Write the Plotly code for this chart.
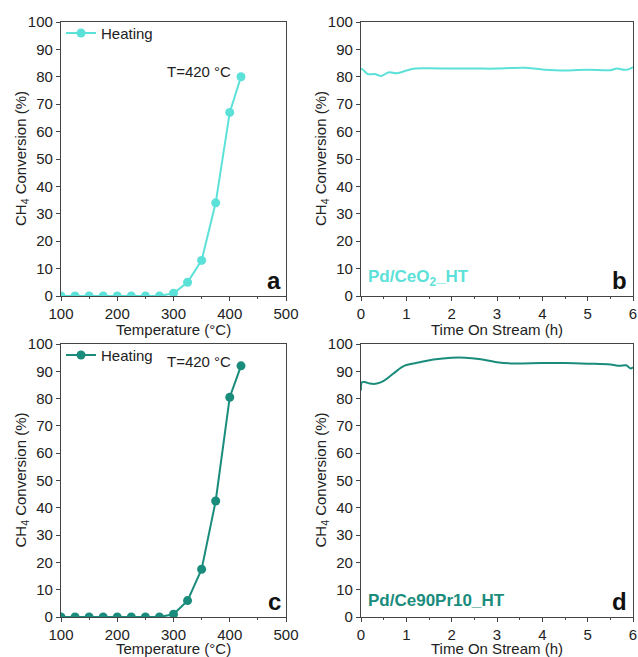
import plotly.graph_objects as go

# Panel a / c : light-off curves
temp = [100, 125, 150, 175, 200, 225, 250, 275, 300, 325, 350, 375, 400, 420]
conv_ceo2 = [0, 0, 0, 0, 0, 0, 0, 0, 1, 5, 13, 34, 67, 80]
conv_cepr = [0, 0, 0, 0, 0, 0, 0, 0, 1, 6, 17.5, 42.5, 80.5, 92]

# Panel b / d : time on stream
tos_b = [0, 0.05, 0.15, 0.3, 0.45, 0.6, 0.8, 1.0, 1.2, 1.5, 2.0, 2.5, 3.0, 3.3, 3.6, 4.0, 4.5, 5.0, 5.5, 5.65, 5.8, 5.9, 6.0]
conv_b = [83, 82.5, 81, 81, 80.3, 81.6, 81.3, 82.3, 83, 83.1, 83, 83, 83, 83.2, 83.3, 82.7, 82.3, 82.6, 82.4, 83, 82.6, 82.7, 83.5]
tos_d = [0, 0.02, 0.1, 0.2, 0.35, 0.5, 0.7, 0.9, 1.0, 1.3, 1.6, 2.0, 2.3, 2.6, 3.0, 3.3, 4.0, 4.5, 5.0, 5.5, 5.7, 5.85, 5.95, 6.0]
conv_d = [83, 86, 86, 85.5, 85.5, 86.5, 89, 91.5, 92.3, 93.3, 94.3, 95, 95, 94.5, 93.3, 92.9, 93, 93, 92.8, 92.5, 92, 92.2, 91, 91.5]

c1 = "#5CE1D8"
c2 = "#1A8C7C"
font = "Liberation Sans, Arial, sans-serif"
axcol = "#444444"
FS = 15

fig = go.Figure()
fig.add_trace(go.Scatter(x=temp, y=conv_ceo2, mode="lines+markers", name="Heating",
                         line=dict(color=c1, width=2), marker=dict(size=9, color=c1),
                         xaxis="x", yaxis="y", legend="legend"))
fig.add_trace(go.Scatter(x=tos_b, y=conv_b, mode="lines", showlegend=False,
                         line=dict(color=c1, width=2, shape="spline"), xaxis="x2", yaxis="y2"))
fig.add_trace(go.Scatter(x=temp, y=conv_cepr, mode="lines+markers", name="Heating",
                         line=dict(color=c2, width=2), marker=dict(size=9, color=c2),
                         xaxis="x3", yaxis="y3", legend="legend2"))
fig.add_trace(go.Scatter(x=tos_d, y=conv_d, mode="lines", showlegend=False,
                         line=dict(color=c2, width=2, shape="spline"), xaxis="x4", yaxis="y4"))

W, H = 638, 657

def dx(a, b):
    return [a / W, b / W]

def dy(top, bot):
    return [1 - bot / H, 1 - top / H]

dx_left = dx(61, 286)
dx_right = dx(361, 633)
dy_top = dy(22, 296)
dy_bot = dy(344, 617)

ytitle = "CH<sub>4</sub> Conversion (%)"

def xax(domain, anchor, rng, dtick):
    return dict(domain=domain, anchor=anchor, range=rng, dtick=dtick, tick0=rng[0],
                automargin=False,
                showline=True, mirror=True, linecolor=axcol, linewidth=1.2,
                ticks="outside", ticklen=4, tickcolor=axcol, showgrid=False, zeroline=False,
                minor=dict(ticks="outside", ticklen=2, dtick=dtick / 2, tickcolor=axcol),
                tickfont=dict(size=FS, color="#222", family=font))

def yax(domain, anchor):
    return dict(domain=domain, anchor=anchor, range=[0, 100], dtick=10,
                automargin=False,
                showline=True, mirror=True, linecolor=axcol, linewidth=1.2,
                ticks="outside", ticklen=4, tickcolor=axcol, showgrid=False, zeroline=False,
                tickfont=dict(size=FS, color="#222", family=font))

fig.update_layout(
    width=W, height=H, margin=dict(l=0, r=0, t=0, b=0),
    paper_bgcolor="white", plot_bgcolor="white",
    font=dict(family=font, color="#222"),
    xaxis=xax(dx_left, "y", [100, 500], 100),
    yaxis=yax(dy_top, "x"),
    xaxis2=xax(dx_right, "y2", [0, 6], 1),
    yaxis2=yax(dy_top, "x2"),
    xaxis3=xax(dx_left, "y3", [100, 500], 100),
    yaxis3=yax(dy_bot, "x3"),
    xaxis4=xax(dx_right, "y4", [0, 6], 1),
    yaxis4=yax(dy_bot, "x4"),
    legend=dict(x=dx_left[0], y=dy_top[1] + 0.008, xanchor="left", yanchor="top",
                bgcolor="rgba(0,0,0,0)", font=dict(size=FS, family=font, color="#222"),
                itemwidth=30, tracegroupgap=0),
    legend2=dict(x=dx_left[0], y=dy_bot[1] + 0.008, xanchor="left", yanchor="top",
                 bgcolor="rgba(0,0,0,0)", font=dict(size=FS, family=font, color="#222"),
                 itemwidth=30, tracegroupgap=0),
)

# axis titles
for xr, yr, t, ys in [("x domain", "y domain", "Temperature (°C)", -23),
                      ("x2 domain", "y2 domain", "Time On Stream (h)", -23),
                      ("x3 domain", "y3 domain", "Temperature (°C)", -21),
                      ("x4 domain", "y4 domain", "Time On Stream (h)", -21)]:
    fig.add_annotation(text=t, x=0.5, y=0, xref=xr, yref=yr, xanchor="center", yanchor="top",
                       yshift=ys, showarrow=False, font=dict(size=FS, family=font, color="#222"))
    fig.add_annotation(text=ytitle, x=0, y=0.5, xref=xr, yref=yr, xanchor="center", yanchor="middle",
                       xshift=-40, textangle=-90, showarrow=False,
                       font=dict(size=FS, family=font, color="#222"))

ann = [
    dict(text="T=420 °C", x=406, y=82, xref="x", yref="y", xanchor="right", yanchor="middle"),
    dict(text="T=420 °C", x=406, y=93.5, xref="x3", yref="y3", xanchor="right", yanchor="middle"),
]
for a in ann:
    a.update(showarrow=False, font=dict(size=FS, family=font, color="#222"))
    fig.add_annotation(**a)

labels = [("a", "x domain", "y domain"), ("b", "x2 domain", "y2 domain"),
          ("c", "x3 domain", "y3 domain"), ("d", "x4 domain", "y4 domain")]
for t, xr, yr in labels:
    fig.add_annotation(text="<b>" + t + "</b>", x=0.985, y=0.0, xref=xr, yref=yr,
                       xanchor="right", yanchor="bottom", showarrow=False,
                       font=dict(size=24, family=font, color="#111"))

fig.add_annotation(text="<b>Pd/CeO<sub>2</sub>_HT</b>", x=0.02, y=0.02, xref="x2 domain", yref="y2 domain",
                   xanchor="left", yanchor="bottom", showarrow=False,
                   font=dict(size=17, family=font, color=c1))
fig.add_annotation(text="<b>Pd/Ce90Pr10_HT</b>", x=0.02, y=0.02, xref="x4 domain", yref="y4 domain",
                   xanchor="left", yanchor="bottom", showarrow=False,
                   font=dict(size=17, family=font, color=c2))

# remove the default page margin so the 638x657 figure fills the window exactly
fig.write_html("out.html", config={"displayModeBar": False},
               post_script="document.body.style.margin='0';"
                           "document.documentElement.style.overflow='hidden';")
